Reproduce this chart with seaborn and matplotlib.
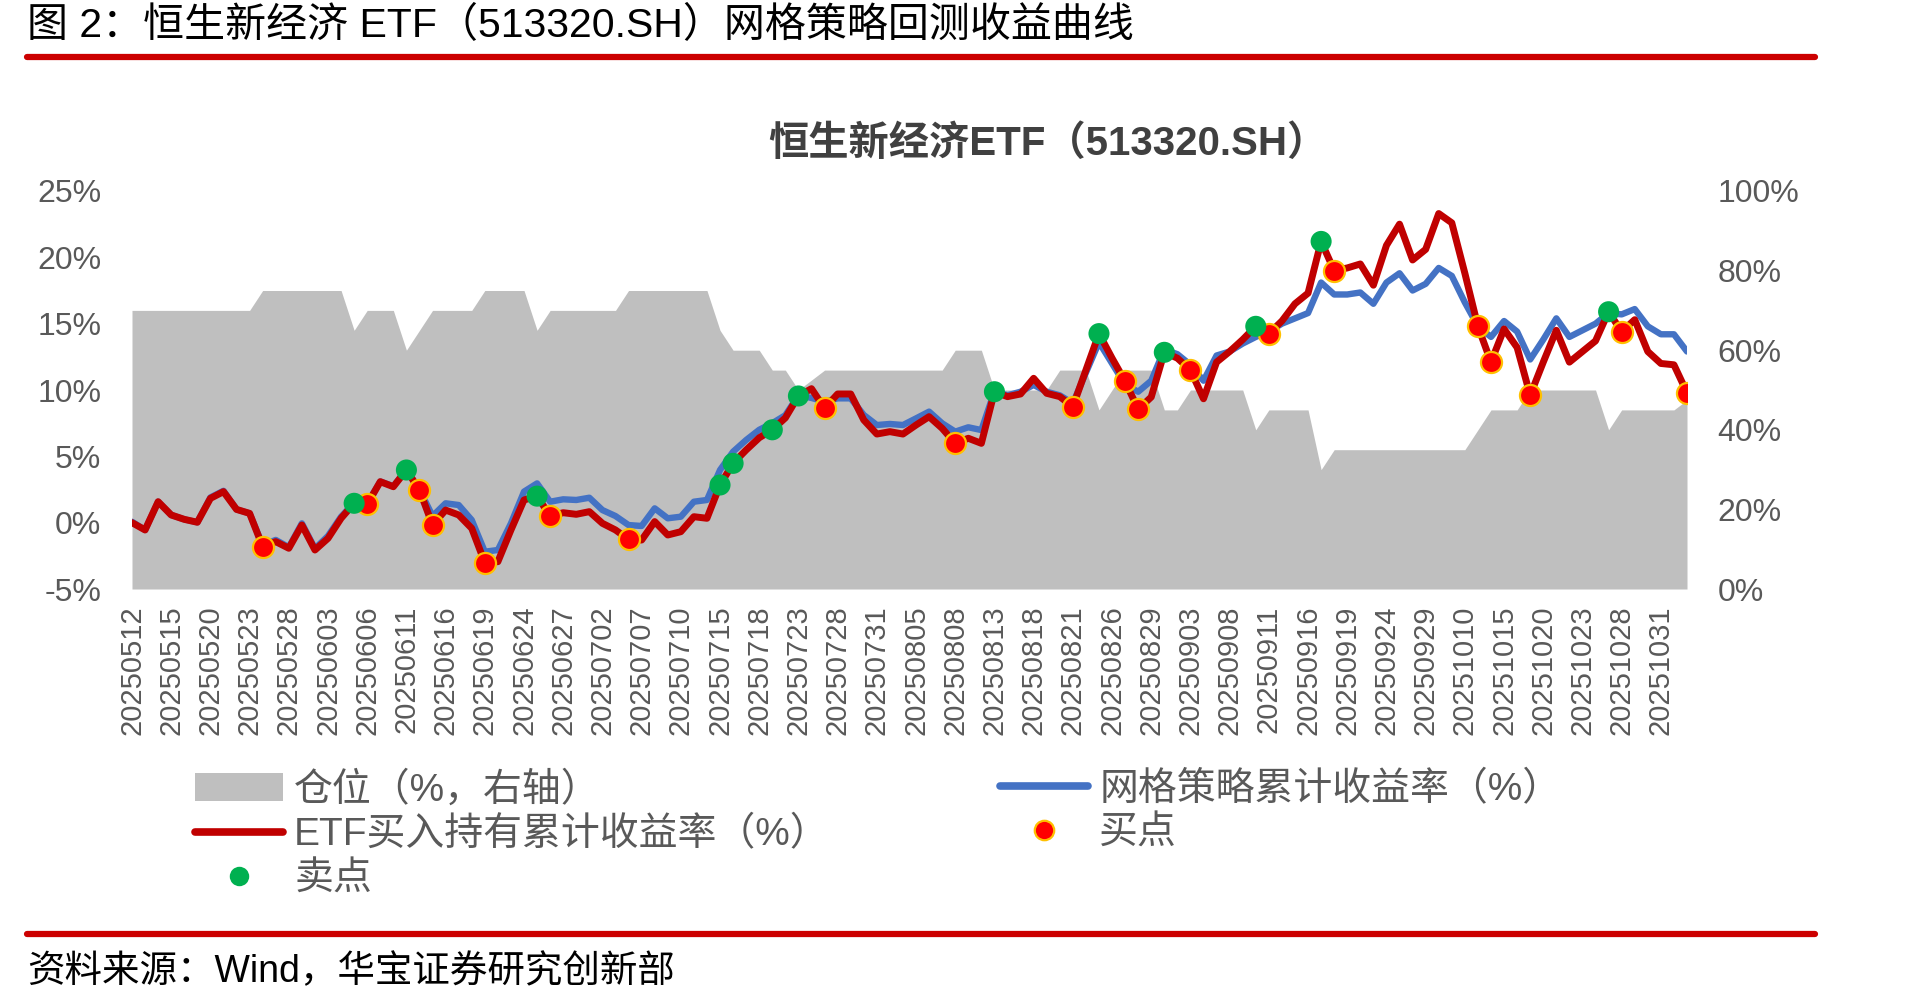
import matplotlib
matplotlib.use("Agg")
import matplotlib.pyplot as plt
from matplotlib.lines import Line2D
from matplotlib.patches import Patch
import pandas as pd
import seaborn as sns

# trading days shown on the x axis (20250512 - 20251104)
trade_days = [
    "20250512", "20250513", "20250514", "20250515", "20250516", "20250519", "20250520", "20250521",
    "20250522", "20250523", "20250526", "20250527", "20250528", "20250529", "20250530",
    "20250603", "20250604", "20250605", "20250606", "20250609", "20250610", "20250611", "20250612",
    "20250613", "20250616", "20250617", "20250618", "20250619", "20250620", "20250623", "20250624",
    "20250625", "20250626", "20250627", "20250630",
    "20250701", "20250702", "20250703", "20250704", "20250707", "20250708", "20250709", "20250710",
    "20250711", "20250714", "20250715", "20250716", "20250717", "20250718", "20250721", "20250722",
    "20250723", "20250724", "20250725", "20250728", "20250729", "20250730", "20250731",
    "20250801", "20250804", "20250805", "20250806", "20250807", "20250808", "20250811", "20250812",
    "20250813", "20250814", "20250815", "20250818", "20250819", "20250820", "20250821", "20250822",
    "20250825", "20250826", "20250827", "20250828", "20250829",
    "20250901", "20250902", "20250903", "20250904", "20250905", "20250908", "20250909", "20250910",
    "20250911", "20250912", "20250915", "20250916", "20250917", "20250918", "20250919", "20250922",
    "20250923", "20250924", "20250925", "20250926", "20250929", "20250930",
    "20251009", "20251010", "20251013", "20251014", "20251015", "20251016", "20251017", "20251020",
    "20251021", "20251022", "20251023", "20251024", "20251027", "20251028", "20251029", "20251030",
    "20251031", "20251103", "20251104",
]

# ETF buy & hold cumulative return (%)
etf_return = [
    0.0, -0.55, 1.58, 0.58, 0.25, 0.03, 1.83, 2.34, 1.0, 0.7,
    -1.81, -1.43, -1.93, -0.18, -2.06, -1.18, 0.33, 1.46, 1.38, 3.09,
    2.71, 3.97, 2.46, -0.18, 0.95, 0.58, -0.43, -3.02, -2.94, -0.55,
    1.71, 2.0, 0.5, 0.75, 0.63, 0.83, -0.05, -0.55, -1.26, -1.31,
    0.08, -0.93, -0.68, 0.45, 0.33, 2.84, 4.47, 5.48, 6.4, 7.0,
    7.9, 9.55, 10.1, 8.62, 9.7, 9.7, 7.74, 6.68, 6.86, 6.68,
    7.36, 7.99, 7.11, 5.98, 6.36, 5.98, 9.87, 9.5, 9.7, 10.88,
    9.75, 9.5, 8.74, 11.5, 14.25, 12.4, 10.66, 8.54, 9.47, 12.84,
    12.4, 11.5, 9.34, 12.1, 12.9, 13.8, 14.8, 14.25, 15.2, 16.5,
    17.3, 21.2, 19.0, 19.2, 19.5, 17.9, 20.9, 22.5, 19.8, 20.6,
    23.3, 22.6, 18.8, 14.8, 12.1, 14.6, 13.2, 9.6, 12.1, 14.5,
    12.1, 12.9, 13.7, 15.9, 14.4, 15.3, 12.9, 12.0, 11.9, 9.8,
]

# grid strategy cumulative return (%)
grid_return = [
    0.07, -0.55, 1.58, 0.58, 0.25, 0.03, 1.9, 2.4, 1.0, 0.7,
    -1.7, -1.3, -1.85, -0.05, -1.95, -1.0, 0.45, 1.5, 1.45, 3.1,
    2.75, 3.97, 2.5, 0.5, 1.46, 1.33, 0.2, -2.19, -2.06, -0.05,
    2.34, 2.96, 1.58, 1.76, 1.71, 1.88, 0.95, 0.5, -0.18, -0.25,
    1.08, 0.33, 0.45, 1.58, 1.71, 3.97, 5.35, 6.23, 7.0, 7.5,
    8.1, 9.6, 9.4, 9.12, 9.37, 9.37, 8.12, 7.36, 7.44, 7.36,
    7.86, 8.37, 7.49, 6.86, 7.19, 6.98, 9.9, 9.6, 9.87, 10.38,
    9.87, 9.6, 9.0, 11.3, 13.6, 12.0, 10.4, 9.87, 10.7, 13.05,
    12.7, 11.9, 10.7, 12.6, 12.9, 13.5, 14.0, 14.4, 15.0, 15.4,
    15.8, 18.1, 17.2, 17.2, 17.35, 16.5, 18.1, 18.8, 17.5, 18.0,
    19.2, 18.6, 16.6, 14.8, 14.0, 15.2, 14.4, 12.3, 13.8, 15.4,
    14.0, 14.5, 15.0, 15.8, 15.7, 16.1, 14.8, 14.2, 14.2, 12.9,
]

# position (%, right axis)
position = [
    70, 70, 70, 70, 70, 70, 70, 70, 70, 70,
    75, 75, 75, 75, 75, 75, 75, 65, 70, 70,
    70, 60, 65, 70, 70, 70, 70, 75, 75, 75,
    75, 65, 70, 70, 70, 70, 70, 70, 75, 75,
    75, 75, 75, 75, 75, 65, 60, 60, 60, 55,
    55, 50, 52.5, 55, 55, 55, 55, 55, 55, 55,
    55, 55, 55, 60, 60, 60, 50, 50, 50, 50,
    50, 55, 55, 55, 45, 50, 55, 55, 55, 45,
    45, 50, 50, 50, 50, 50, 40, 45, 45, 45,
    45, 30, 35, 35, 35, 35, 35, 35, 35, 35,
    35, 35, 35, 40, 45, 45, 45, 50, 50, 50,
    50, 50, 50, 40, 45, 45, 45, 45, 45, 47.5,
]

buy_days = [10, 18, 22, 23, 27, 32, 38, 53, 63, 72, 76, 77, 81, 87, 92, 103, 104, 107, 114, 119]
sell_days = [17, 21, 31, 45, 46, 49, 51, 66, 74, 79, 86, 91, 113]

W, H = 1912, 1005
RED, BLUE, GRAY = "#C00000", "#4472C4", "#BFBFBF"
TXT = "#595959"

sns.set_theme(style="white")
plt.rcParams["font.family"] = ["Liberation Sans", "Noto Sans CJK SC", "DejaVu Sans"]

df = pd.DataFrame({
    "day": range(len(trade_days)),
    "date": trade_days,
    "etf": etf_return,
    "grid": grid_return,
    "pos": position,
})

fig = plt.figure(figsize=(W / 100, H / 100), dpi=100)
ax = fig.add_axes([132 / W, 1 - 589 / H, (1687 - 132) / W, (589 - 191) / H])
ax2 = ax.twinx()

# position area on the right axis, kept behind the lines
ax2.fill_between(df["day"], 0, df["pos"], color=GRAY, lw=0)
ax.set_zorder(ax2.get_zorder() + 1)
ax.patch.set_visible(False)

sns.lineplot(data=df, x="day", y="grid", ax=ax, color=BLUE, lw=4.6)
sns.lineplot(data=df, x="day", y="etf", ax=ax, color=RED, lw=5.0)
sns.scatterplot(data=df.loc[buy_days], x="day", y="etf", ax=ax, color="#FF0000",
                edgecolor="#FFC000", linewidth=1.6, s=230, zorder=5)
sns.scatterplot(data=df.loc[sell_days], x="day", y="etf", ax=ax, color="#00B050",
                edgecolor="none", s=230, zorder=5)

ax.set_xlim(0, len(trade_days) - 1)
ax.set_ylim(-5, 25)
ax.set_yticks(range(-5, 26, 5))
ax.set_yticklabels([f"{v}%" for v in range(-5, 26, 5)])
ax.set_xticks(df["day"][::3])
ax.set_xticklabels(trade_days[::3], rotation=90)
ax.set_xlabel("")
ax.set_ylabel("")
ax2.set_ylim(0, 100)
ax2.set_yticks(range(0, 101, 20))
ax2.set_yticklabels([f"{v}%" for v in range(0, 101, 20)])

ax.tick_params(axis="y", length=0, labelsize=23, labelcolor=TXT, pad=22)
ax.tick_params(axis="x", length=0, labelsize=21, labelcolor=TXT, pad=12)
ax2.tick_params(axis="y", length=0, labelsize=23, labelcolor=TXT, pad=22)
for a in (ax, ax2):
    a.grid(False)
    for s in a.spines.values():
        s.set_visible(False)

# chart title
fig.text(1048 / W, 1 - 144 / H, "恒生新经济ETF（513320.SH）", ha="center", va="center",
         fontsize=29, fontweight="bold", color="#404040")

# legend in two columns
leg_kw = dict(loc="upper left", frameon=False, fontsize=28, labelcolor=TXT,
              handlelength=2.25, handletextpad=0.3, labelspacing=0.2,
              borderpad=0, borderaxespad=0)
h_pos = Patch(facecolor=GRAY, edgecolor="none")
h_etf = Line2D([], [], color=RED, lw=5.5)
h_sell = Line2D([], [], ls="", marker="o", ms=14, markerfacecolor="#00B050", markeredgecolor="none")
h_grid = Line2D([], [], color=BLUE, lw=5.5)
h_buy = Line2D([], [], ls="", marker="o", ms=14, markerfacecolor="#FF0000",
               markeredgecolor="#FFC000", markeredgewidth=1.6)
fig.legend([h_pos, h_etf, h_sell], ["仓位（%，右轴）", "ETF买入持有累计收益率（%）", "卖点"],
           bbox_to_anchor=(195 / W, 1 - 771 / H), **leg_kw)
fig.legend([h_grid, h_buy], ["网格策略累计收益率（%）", "买点"],
           bbox_to_anchor=(1000 / W, 1 - 771 / H), **leg_kw)

# page header / footer
fig.text(27 / W, 1 - 26 / H, "图 2：恒生新经济 ETF（513320.SH）网格策略回测收益曲线",
         ha="left", va="center", fontsize=29.5, color="black")
fig.add_artist(Line2D([27 / W, 1815 / W], [1 - 57 / H] * 2, color="#CC0000", lw=4.5))
fig.add_artist(Line2D([27 / W, 1815 / W], [1 - 934 / H] * 2, color="#CC0000", lw=4.5))
fig.text(27 / W, 1 - 972 / H, "资料来源：Wind，华宝证券研究创新部",
         ha="left", va="center", fontsize=27, color="black")

fig.savefig("out.png", dpi=100)
